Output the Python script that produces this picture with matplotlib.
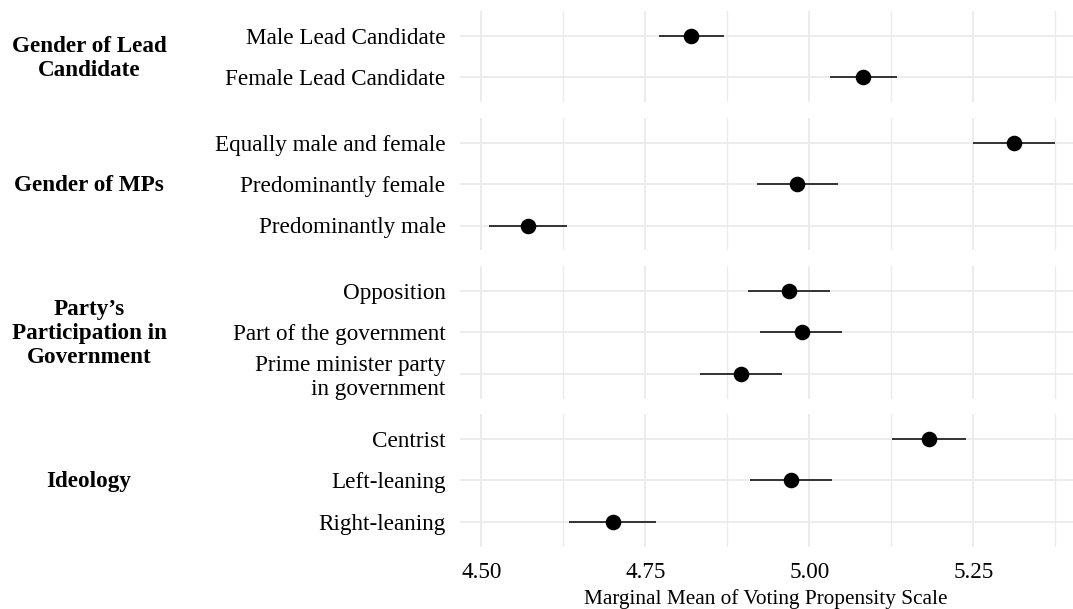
import matplotlib.pyplot as plt
from matplotlib.ticker import MultipleLocator

plt.rcParams['font.family'] = ['Liberation Serif', 'DejaVu Serif']

# attribute groups (facets) and their levels, top to bottom
groups = ["Gender of Lead\nCandidate", "Gender of MPs",
          "Party\u2019s\nParticipation in\nGovernment", "Ideology"]
levels = [
    ["Male Lead Candidate", "Female Lead Candidate"],
    ["Equally male and female", "Predominantly female", "Predominantly male"],
    ["Opposition", "Part of the government", "Prime minister party\nin government"],
    ["Centrist", "Left-leaning", "Right-leaning"],
]
estimate = [
    [4.820, 5.082],
    [5.312, 4.981, 4.571],
    [4.969, 4.988, 4.896],
    [5.183, 4.972, 4.700],
]
conf_low = [
    [4.771, 5.031],
    [5.249, 4.920, 4.511],
    [4.907, 4.925, 4.833],
    [5.126, 4.909, 4.634],
]
conf_high = [
    [4.870, 5.133],
    [5.375, 5.043, 4.630],
    [5.031, 5.050, 4.958],
    [5.238, 5.035, 4.766],
]
x_ticks = [4.50, 4.75, 5.00, 5.25]

W, H = 1073, 609
fig = plt.figure(figsize=(W / 100, H / 100), dpi=100)

# panel geometry in pixels (free_y spacing: 41.5 px per row unit)
panel_left, panel_right = 459.5, 1073
unit = 41.5
gap = 15.3
top = 11
grid_col = '#EBEBEB'

for i, (g, labs) in enumerate(zip(groups, levels)):
    n = len(labs)
    h = (n - 1 + 1.2) * unit
    ax = fig.add_axes([panel_left / W, 1 - (top + h) / H,
                       (panel_right - panel_left) / W, h / H])
    rows = list(range(1, n + 1))
    ax.hlines(rows, conf_low[i], conf_high[i], color='black', lw=1.1, zorder=3)
    ax.plot(estimate[i], rows, 'o', color='black', ms=10.2, zorder=4)

    ax.set_ylim(n + 0.6, 0.4)
    ax.set_xlim(4.4666, 5.4018)
    ax.set_yticks(rows)
    ax.set_yticklabels(labs, fontsize=16.7, linespacing=1.2)
    ax.xaxis.set_major_locator(MultipleLocator(0.25))
    ax.xaxis.set_minor_locator(MultipleLocator(0.125))
    ax.grid(True, which='major', color=grid_col, lw=1.3, zorder=0)
    ax.grid(True, which='minor', axis='x', color=grid_col, lw=1.0, zorder=0)
    ax.set_axisbelow(True)
    ax.tick_params(which='both', length=0)
    ax.tick_params(axis='y', pad=10)
    for s in ax.spines.values():
        s.set_visible(False)

    if i < len(groups) - 1:
        ax.tick_params(axis='x', labelbottom=False)
    else:
        ax.set_xticks(x_ticks)
        ax.set_xticklabels([f"{t:.2f}" for t in x_ticks], fontsize=16.7)
        ax.tick_params(axis='x', pad=11)
        ax.set_xlabel("Marginal Mean of Voting Propensity Scale",
                      fontsize=15.3, labelpad=4.5)

    # facet strip label on the left
    fig.text(89 / W, 1 - (top + h / 2 + 1.5) / H, g, ha='center', va='center',
             fontsize=16.7, fontweight='bold', linespacing=1.2)

    top += h + gap

fig.savefig('out.png', dpi=100)
